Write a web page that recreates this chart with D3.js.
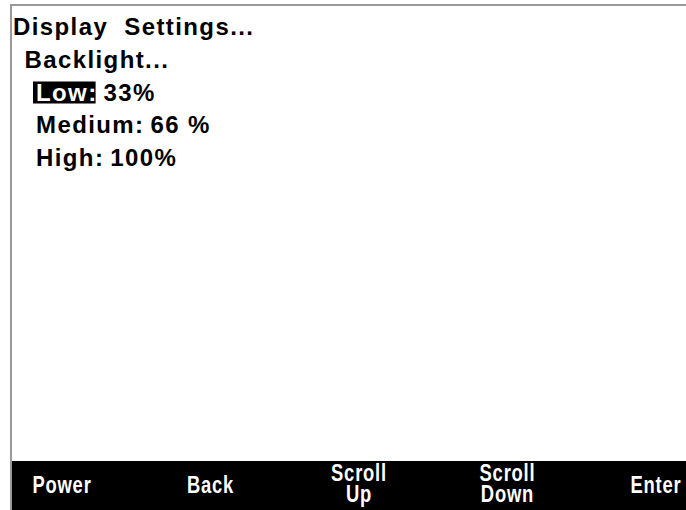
<!DOCTYPE html>
<html>
<head>
<meta charset="utf-8">
<script src="https://cdn.jsdelivr.net/npm/d3@7"></script>
<style>
  body { margin: 0; background: #fff; }
  text { white-space: pre; }
  .menu { font-family: "Liberation Sans", Arial, sans-serif; font-weight: bold; font-size: 24px; letter-spacing: 1.4px; }
  .btn { font-family: "Liberation Sans", Arial, sans-serif; font-weight: bold; font-size: 23px; letter-spacing: 1px; fill: #fff; }
</style>
</head>
<body>
<div id="screen"></div>
<script>
// menu lines on the display
const menuLabels = ["Display  Settings...", "Backlight...", "Low:", "Medium:", "High:"];
const menuValues = ["", "", "33%", "66 %", "100%"];
const menuLevels = [0, 1, 2, 2, 2];
const selectedIndex = 2;

// soft keys along the bottom
const buttonLabels = [["Power"], ["Back"], ["Scroll", "Up"], ["Scroll", "Down"], ["Enter"]];

const width = 686;
const height = 510;

const svg = d3.select('#screen')
  .append('svg')
    .attr('width', width)
    .attr('height', height)
    .attr('viewBox', [0, 0, width, height]);

svg.append('rect')
    .attr('width', width)
    .attr('height', height)
    .attr('fill', '#fff');

// frame: top and left edges only
svg.append('path')
    .attr('d', `M${width},5 H11 V${height}`)
    .attr('fill', 'none')
    .attr('stroke', '#999')
    .attr('stroke-width', 2);

const barTop = 461;
svg.append('rect')
    .attr('x', 12)
    .attr('y', barTop)
    .attr('width', width - 12)
    .attr('height', height - barTop)
    .attr('fill', '#000');

const y = d3.scaleLinear().domain([0, menuLabels.length - 1]).range([35, 166]);
const x = d3.scaleLinear().domain([0, 2]).range([13, 36]);

const rows = svg.selectAll('g.row')
  .data(menuLabels.map((label, i) => ({ label, value: menuValues[i], level: menuLevels[i], i })))
  .join('g')
    .attr('class', 'row')
    .attr('transform', d => `translate(${x(d.level)},${y(d.i)})`);

rows.append('text')
    .attr('class', 'menu')
    .attr('fill', d => d.i === selectedIndex ? '#fff' : '#000')
    .text(d => d.label);

rows.each(function (d) {
  const g = d3.select(this);
  const w = g.select('text').node().getComputedTextLength();
  if (d.i === selectedIndex) {
    g.insert('rect', 'text')
        .attr('x', -3)
        .attr('y', -19)
        .attr('width', w + 1)
        .attr('height', 22)
        .attr('fill', '#000');
  }
  if (d.value) {
    g.append('text')
        .attr('class', 'menu')
        .attr('x', w + 6)
        .attr('fill', '#000')
        .text(d.value);
  }
});

const bx = d3.scalePoint().domain(d3.range(buttonLabels.length)).range([62, 656]);

svg.selectAll('g.btn-group')
  .data(buttonLabels)
  .join('g')
    .attr('class', 'btn-group')
    .attr('transform', (d, i) => `translate(${bx(i)},${d.length > 1 ? 481 : 493}) scale(0.8,1)`)
  .selectAll('text')
  .data(d => d)
  .join('text')
    .attr('class', 'btn')
    .attr('text-anchor', 'middle')
    .attr('y', (d, i) => i * 21)
    .text(d => d);
</script>
</body>
</html>
